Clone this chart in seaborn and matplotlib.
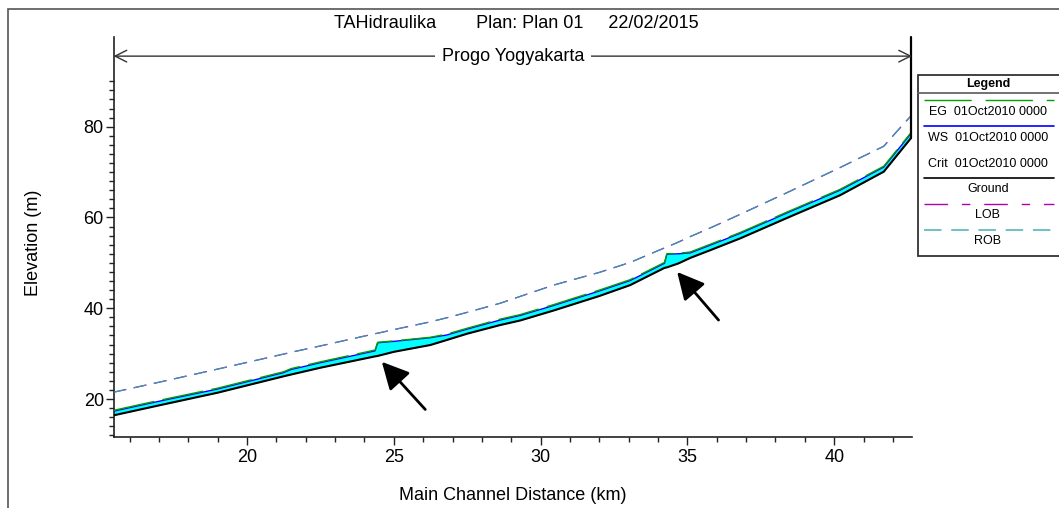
import numpy as np
import pandas as pd
import matplotlib
matplotlib.use("Agg")
import matplotlib.pyplot as plt
from matplotlib.lines import Line2D
from matplotlib.patches import Rectangle
from matplotlib.ticker import FixedLocator
import seaborn as sns

# ---------------- data ----------------
station_km = [15.45, 17.0, 19.0, 21.24, 21.5, 22.5, 24.36, 24.45, 25.0, 26.24,
              26.8, 27.5, 28.62, 29.3, 30.44, 32.0, 33.05, 34.22, 34.3, 34.7,
              35.1, 35.78, 36.8, 38.5, 40.2, 41.69, 42.14, 42.63]
ground_elev = [16.4, 18.6, 21.4, 25.0, 25.4, 26.9, 29.4, 29.5, 30.4, 31.9,
               33.0, 34.4, 36.3, 37.3, 39.5, 42.7, 45.1, 48.9, 49.0, 49.9,
               51.1, 52.8, 55.4, 60.2, 64.9, 70.1, 73.7, 77.6]
ws_elev = [17.3, 19.5, 22.2, 25.8, 26.5, 28.0, 30.6, 32.4, 32.7, 33.5,
           34.1, 35.4, 37.4, 38.4, 40.6, 43.8, 46.1, 49.9, 51.9, 52.0,
           52.2, 53.9, 56.5, 61.3, 66.0, 71.1, 74.7, 78.6]
eg_elev = [17.5, 19.7, 22.4, 26.0, 26.7, 28.2, 30.8, 32.5, 32.8, 33.6,
           34.3, 35.6, 37.6, 38.6, 40.8, 44.0, 46.3, 50.1, 52.0, 52.1,
           52.4, 54.1, 56.7, 61.5, 66.2, 71.3, 74.9, 78.8]
lob_elev = [21.5, 23.7, 26.6, 29.9, 30.3, 31.7, 34.4, 34.5, 35.3, 37.0,
            37.9, 39.1, 41.1, 42.6, 45.1, 47.9, 50.1, 53.3, 53.5, 54.6,
            55.8, 57.7, 60.7, 65.8, 71.0, 75.7, 79.0, 82.5]
rob_elev = [21.5, 23.7, 26.6, 29.9, 30.3, 31.7, 34.4, 34.5, 35.3, 37.0,
            37.9, 39.1, 41.1, 42.6, 45.1, 47.9, 50.1, 53.3, 53.5, 54.6,
            55.8, 57.7, 60.7, 65.8, 71.0, 75.7, 79.0, 82.5]

title_text = "TAHidraulika        Plan: Plan 01     22/02/2015"
reach_name = "Progo Yogyakarta"
x_label = "Main Channel Distance (km)"
y_label = "Elevation (m)"
legend_title = "Legend"
legend_labels = ["EG  01Oct2010 0000", "WS  01Oct2010 0000", "Crit  01Oct2010 0000",
                 "Ground", "LOB", "ROB"]
x_major = [20, 25, 30, 35, 40]
y_major = [20, 40, 60, 80]
# annotation arrows: head and tail positions (km, elevation)
arrow_km_head = [24.59, 34.65]
arrow_elev_head = [28.2, 48.0]
arrow_km_tail = [26.07, 36.06]
arrow_elev_tail = [17.7, 37.4]

# ---------------- styling ----------------
sns.set_theme(style="white")
plt.rcParams["font.family"] = ["Liberation Sans", "DejaVu Sans"]

C_EG = "#00A000"
C_WS = "#0000FF"
C_GROUND = "#000000"
C_LOB = "#B000B0"
C_ROB = "#2AA2B2"
C_FILL = "#00FFFF"

W, H = 1059, 508
fig = plt.figure(figsize=(W / 100, H / 100), dpi=100)
fig.patch.set_facecolor("white")


def fx(px):
    return px / W


def fy(py):
    return 1 - py / H


ax = fig.add_axes([fx(113.5), fy(436.7), fx(912) - fx(113.5), fy(37.3) - fy(436.7)])
ax.set_facecolor("white")

df = pd.DataFrame(dict(km=station_km, ground=ground_elev, ws=ws_elev,
                       eg=eg_elev, lob=lob_elev, rob=rob_elev))

ax.fill_between(df["km"], df["ground"], df["ws"], color=C_FILL, lw=0, zorder=1)

sns.lineplot(data=df, x="km", y="lob", ax=ax, color=C_LOB, lw=0.9,
             estimator=None, sort=False, zorder=2)
ax.lines[-1].set_dashes([10.5, 6.0])
sns.lineplot(data=df, x="km", y="rob", ax=ax, color=C_ROB, lw=0.9, alpha=0.95,
             estimator=None, sort=False, zorder=3)
ax.lines[-1].set_dashes([10, 6.5])
sns.lineplot(data=df, x="km", y="ws", ax=ax, color=C_WS, lw=1.0,
             estimator=None, sort=False, zorder=4)
sns.lineplot(data=df, x="km", y="eg", ax=ax, color=C_EG, lw=1.0,
             estimator=None, sort=False, zorder=5)
ax.lines[-1].set_dashes([30, 6])
sns.lineplot(data=df, x="km", y="ground", ax=ax, color=C_GROUND, lw=1.5,
             estimator=None, sort=False, zorder=6)

xlim = (15.45, 42.65)
ylim = (11.7, 99.7)
ax.set_xlim(*xlim)
ax.set_ylim(*ylim)

# reach boundary marker
ax.plot([station_km[-1], station_km[-1]], [ground_elev[-1], ylim[1]],
        color="black", lw=1.6, zorder=7, clip_on=False)

# reach arrow with name
reach_y = 95.55
ax.annotate("", xy=(xlim[0], reach_y), xytext=(xlim[1], reach_y),
            arrowprops=dict(arrowstyle="<->,head_length=0.7,head_width=0.35",
                            color="#333333", lw=1.0, shrinkA=0, shrinkB=0,
                            mutation_scale=12),
            annotation_clip=False, zorder=8)
ax.text(np.mean(xlim), reach_y, reach_name, ha="center", va="center",
        fontsize=13, color="black", zorder=9,
        bbox=dict(fc="white", ec="none", pad=5))

# black pointer arrows
for hx, hy, tx, ty in zip(arrow_km_head, arrow_elev_head, arrow_km_tail, arrow_elev_tail):
    ax.annotate("", xy=(hx, hy), xytext=(tx, ty),
                arrowprops=dict(arrowstyle="-|>,head_length=0.75,head_width=0.38",
                                color="black", lw=2.0, shrinkA=0, shrinkB=0,
                                mutation_scale=22), zorder=10)

# axes styling
for s in ["top", "right"]:
    ax.spines[s].set_visible(False)
for s in ["left", "bottom"]:
    ax.spines[s].set_color("#222222")
    ax.spines[s].set_linewidth(1.2)

ax.xaxis.set_major_locator(FixedLocator(x_major))
ax.yaxis.set_major_locator(FixedLocator(y_major))
ax.xaxis.set_minor_locator(FixedLocator([v for v in range(16, 43) if v % 5 != 0]))
ax.yaxis.set_minor_locator(FixedLocator([v for v in range(12, 91, 2) if v % 20 != 0]))
ax.tick_params(axis="both", which="major", direction="out", length=6, width=1.0,
               color="#222222", labelsize=13, labelcolor="black")
ax.tick_params(axis="both", which="minor", direction="out", length=3.6, width=1.0,
               color="#222222")
ax.tick_params(axis="y", which="major", pad=1)
ax.tick_params(axis="x", which="major", pad=3)
ax.tick_params(bottom=True, left=True, which="both")
ax.set_xlabel("")
ax.set_ylabel("")
ax.grid(False)

fig.text(fx(33), fy(243), y_label, rotation=90, ha="center", va="center",
         fontsize=13, color="black")
fig.text(fx(513), fy(496), x_label, ha="center", va="center",
         fontsize=13, color="black")
fig.text(fx(516), fy(23), title_text, ha="center", va="center",
         fontsize=13, color="black")

# outer frame
fig.add_artist(Rectangle((fx(8.3), fy(530)), fx(1080) - fx(8.3), fy(9.3) - fy(530),
                         transform=fig.transFigure, fill=False,
                         edgecolor="#555555", lw=1.2, clip_on=False))

# legend box
lx0, lx1 = 918, 1062
fig.add_artist(Rectangle((fx(lx0), fy(256)), fx(lx1) - fx(lx0), fy(75) - fy(256),
                         transform=fig.transFigure, facecolor="white",
                         edgecolor="#333333", lw=1.3, clip_on=False))
fig.add_artist(Line2D([fx(lx0), fx(lx1)], [fy(92.7), fy(92.7)],
                      transform=fig.transFigure, color="#666666", lw=1.3))
fig.text(fx(988), fy(83.5), legend_title, ha="center", va="center",
         fontsize=9, fontweight="bold", color="black")

sample_y = [100, 126, 152, 178, 204, 230]
text_y = [112, 138, 164, 189.5, 215.5, 241.5]
sample_styles = [
    dict(color=C_EG, lw=1.0, dashes=[34, 10]),
    dict(color=C_WS, lw=1.2, dashes=None),
    None,
    dict(color=C_GROUND, lw=1.2, dashes=None),
    dict(color=C_LOB, lw=1.0, dashes=[17, 10, 6, 10]),
    dict(color="#6FC0C4", lw=1.4, dashes=[9, 5]),
]
for lab, sy, ty, st in zip(legend_labels, sample_y, text_y, sample_styles):
    if st is not None:
        ln = Line2D([fx(924), fx(1054)], [fy(sy), fy(sy)], transform=fig.transFigure,
                    color=st["color"], lw=st["lw"])
        if st["dashes"] is not None:
            ln.set_dashes(st["dashes"])
        fig.add_artist(ln)
    fig.text(fx(988), fy(ty), lab, ha="center", va="center", fontsize=9, color="black")

fig.savefig("out.png", dpi=100, facecolor="white")
